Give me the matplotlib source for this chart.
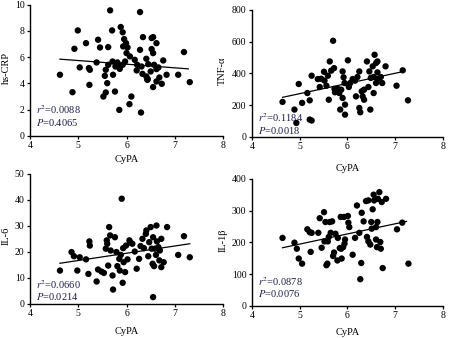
import matplotlib
matplotlib.use('Agg')
import matplotlib.pyplot as plt
plt.rcParams.update({'font.family': 'Liberation Serif', 'font.size': 7,
                     'mathtext.fontset': 'stix'})

#. data
crp_x = [4.62, 4.88, 4.99, 4.92, 5.03, 5.16, 5.22, 5.24, 5.23, 5.41, 5.45, 5.38, 5.52, 5.57,
         5.60, 5.55, 5.57, 5.62, 5.62, 5.66, 5.70, 5.71, 5.72, 5.76, 5.83, 5.86, 5.85, 5.88,
         5.92, 5.93, 5.95, 5.99, 6.00, 5.97, 5.92, 6.02, 6.06, 6.07, 6.10, 6.17, 6.21, 6.28,
         6.30, 6.28, 6.31, 6.33, 6.34, 6.41, 6.43, 6.45, 6.50, 6.52, 6.55, 6.55, 6.52, 6.57,
         6.55, 6.62, 6.62, 6.66, 6.68, 6.73, 6.76, 6.83, 7.07, 7.19, 7.31, 6.44, 6.62, 6.22,
         5.77, 5.81, 6.41]
crp_y = [4.66, 3.33, 8.04, 6.64, 5.22, 7.07, 5.17, 5.04, 3.89, 7.33, 6.74, 5.60, 3.00, 3.31,
         4.02, 4.58, 5.04, 5.42, 6.77, 9.57, 8.04, 5.67, 4.66, 3.38, 5.42, 5.11, 1.98, 8.30,
         7.90, 6.82, 7.38, 7.07, 6.31, 5.67, 5.42, 6.74, 2.42, 6.06, 3.00, 5.80, 4.99, 9.44,
         1.78, 6.56, 5.29, 4.73, 7.53, 4.53, 4.27, 5.47, 4.91, 6.62, 7.53, 6.31, 7.46, 5.42,
         3.72, 7.07, 4.15, 5.22, 4.45, 3.97, 5.75, 4.66, 4.66, 6.39, 4.10, 4.33, 5.09, 5.42,
         5.29, 5.60, 5.88]

tnf_x = [4.64, 4.89, 4.93, 4.98, 5.05, 5.16, 5.21, 5.25, 5.21, 5.25, 5.38, 5.42, 5.45, 5.51,
         5.52, 5.56, 5.59, 5.61, 5.63, 5.66, 5.70, 5.72, 5.73, 5.74, 5.80, 5.83, 5.87, 5.85,
         5.90, 5.90, 5.92, 5.94, 5.95, 5.95, 6.01, 6.03, 6.06, 6.11, 6.16, 6.21, 6.25, 6.25,
         6.27, 6.30, 6.32, 6.35, 6.41, 6.44, 6.46, 6.48, 6.49, 6.53, 6.55, 6.57, 6.60, 6.60,
         6.63, 6.63, 6.64, 6.70, 6.73, 6.80, 7.03, 7.16, 7.27, 6.35, 6.55, 6.18]
tnf_y = [220, 172, 88, 333, 214, 276, 230, 385, 109, 103, 364, 314, 366, 410,
         354, 322, 385, 234, 475, 417, 605, 433, 302, 281, 302, 276, 297, 172,
         245, 412, 375, 339, 203, 140, 482, 314, 339, 364, 354, 377, 412, 182,
         155, 287, 255, 297, 475, 314, 412, 172, 371, 444, 377, 517, 465, 339,
         406, 475, 364, 377, 339, 444, 322, 419, 230, 234, 276, 255]

il6_x = [4.62, 4.86, 4.91, 4.98, 5.03, 5.16, 5.21, 5.23, 5.24, 5.38, 5.41, 5.48, 5.53, 5.57,
         5.59, 5.60, 5.62, 5.64, 5.66, 5.67, 5.71, 5.72, 5.76, 5.79, 5.81, 5.85, 5.86, 5.88,
         5.90, 5.92, 5.93, 5.94, 5.97, 5.99, 6.02, 6.06, 6.08, 6.12, 6.17, 6.21, 6.26, 6.29,
         6.33, 6.36, 6.40, 6.41, 6.45, 6.50, 6.52, 6.54, 6.55, 6.57, 6.59, 6.61, 6.62, 6.63,
         6.66, 6.68, 6.69, 6.72, 6.72, 6.77, 6.84, 7.07, 7.19, 7.31, 6.55, 6.47]
il6_y = [12.8, 19.9, 18.3, 12.8, 17.9, 17.1, 11.5, 24.0, 22.4, 8.6, 13.2, 12.4, 11.9, 21.2,
         24.4, 23.1, 14.7, 29.5, 26.3, 20.5, 10.9, 5.5, 25.6, 19.9, 14.5, 17.3, 12.8, 18.8,
         40.4, 8.1, 21.4, 16.0, 12.2, 22.4, 17.1, 24.4, 23.5, 23.1, 20.1, 13.5, 17.3, 22.2,
         25.0, 21.4, 26.9, 28.2, 18.3, 29.5, 21.2, 15.4, 2.6, 14.5, 21.2, 18.8, 30.1, 24.0,
         21.8, 16.7, 20.5, 25.0, 14.1, 16.0, 29.5, 18.8, 26.0, 17.9, 25.6, 23.7]

il1b_x = [4.64, 4.89, 4.94, 4.98, 5.05, 5.16, 5.21, 5.25, 5.23, 5.39, 5.42, 5.46, 5.51, 5.54,
          5.56, 5.58, 5.59, 5.61, 5.63, 5.65, 5.68, 5.70, 5.72, 5.75, 5.79, 5.80, 5.84, 5.86,
          5.87, 5.88, 5.91, 5.93, 5.94, 5.95, 6.01, 6.02, 6.04, 6.11, 6.16, 6.20, 6.25, 6.27,
          6.29, 6.30, 6.34, 6.39, 6.41, 6.44, 6.48, 6.50, 6.51, 6.53, 6.55, 6.56, 6.60, 6.60,
          6.62, 6.63, 6.64, 6.67, 6.69, 6.72, 6.74, 6.70, 6.81, 7.04, 7.15, 7.28, 6.44, 5.52]
il1b_y = [214, 199, 180, 149, 133, 241, 232, 230, 170, 230, 276, 183, 295, 264,
          128, 133, 203, 217, 264, 230, 266, 157, 168, 227, 143, 214, 182, 280,
          180, 149, 185, 280, 196, 209, 283, 262, 248, 161, 214, 316, 230, 84,
          135, 293, 266, 330, 217, 203, 193, 264, 243, 304, 350, 332, 209, 248,
          185, 264, 337, 358, 201, 327, 119, 180, 337, 241, 262, 133, 332, 203]

# regression lines: (x0, x1, y0, y1)
crp_fit = [4.62, 7.28, 5.85, 5.11]
tnf_fit = [4.64, 7.18, 249, 412]
il6_fit = [4.62, 7.31, 15.6, 23.1]
il1b_fit = [4.64, 7.24, 183, 266]

stats = [('0.0088', '0.4065'), ('0.1184', '0.0018'), ('0.0660', '0.0214'), ('0.0878', '0.0076')]
ylabels = ['hs-CRP', 'TNF-\u03b1', 'IL-6', 'IL-1\u03b2']
yticks = [[0, 2, 4, 6, 8, 10], [0, 200, 400, 600, 800], [0, 10, 20, 30, 40, 50], [0, 100, 200, 300, 400]]

panels = [(crp_x, crp_y, crp_fit), (tnf_x, tnf_y, tnf_fit), (il6_x, il6_y, il6_fit), (il1b_x, il1b_y, il1b_fit)]

#. layout (figure fractions) and label offsets
rects = [[0.0667, 0.598, 0.429, 0.388], [0.560, 0.595, 0.424, 0.376],
         [0.0667, 0.101, 0.429, 0.385], [0.560, 0.095, 0.424, 0.376]]
xlab_y = [-0.145, -0.21, -0.18, -0.175]
ylab_x = [-0.10, -0.13, -0.10, -0.13]
txt_y = [(0.20, 0.10), (0.15, 0.05), (0.146, 0.06), (0.19, 0.10)]

fig = plt.figure(figsize=(4.5, 3.38), dpi=100)
for i, (x, y, fit) in enumerate(panels):
    ax = fig.add_axes(rects[i])
    ax.scatter(x, y, s=21, c='black', edgecolors='none', zorder=3)
    ax.plot(fit[:2], fit[2:], c='black', lw=0.9, zorder=2)
    ax.set_xlim(4, 8)
    ax.set_ylim(yticks[i][0], yticks[i][-1])
    ax.set_xticks([4, 5, 6, 7, 8])
    ax.set_yticks(yticks[i])
    for s in ['top', 'right']:
        ax.spines[s].set_visible(False)
    for s in ['left', 'bottom']:
        ax.spines[s].set_linewidth(1.0)
    ax.tick_params(direction='out', length=2.5, width=0.9, labelsize=7, pad=1.5)
    ax.set_xlabel('CyPA', fontsize=7.5)
    ax.set_ylabel(ylabels[i], fontsize=7.5)
    ax.xaxis.set_label_coords(0.5, xlab_y[i])
    ax.yaxis.set_label_coords(ylab_x[i], 0.52)
    ax.text(0.03, txt_y[i][0], '$r^2$=' + stats[i][0], transform=ax.transAxes,
            fontsize=7.5, color='#1c1c48', va='center')
    ax.text(0.03, txt_y[i][1], '$P$=' + stats[i][1], transform=ax.transAxes,
            fontsize=7.5, color='#1c1c48', va='center')

plt.savefig('out.png', dpi=100)
